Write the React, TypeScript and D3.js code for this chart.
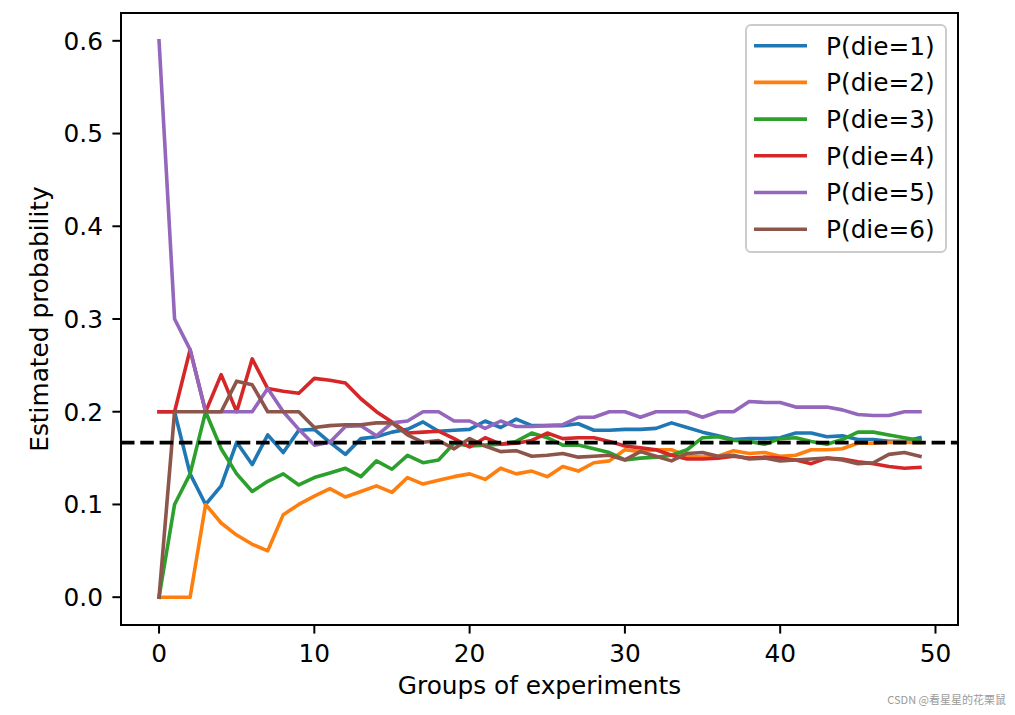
import React from "react";
import * as d3 from "d3";

const groups: number[] = d3.range(50);

const p1 = [0.2,0.2,0.133,0.1,0.12,0.167,0.143,0.175,0.156,0.18,0.181,0.167,0.154,0.171,0.173,0.178,0.181,0.189,0.179,0.18,0.181,0.19,0.183,0.192,0.185,0.185,0.185,0.187,0.18,0.18,0.181,0.181,0.182,0.188,0.183,0.178,0.174,0.17,0.171,0.171,0.172,0.177,0.177,0.173,0.174,0.17,0.17,0.168,0.168,0.172];
const p2 = [0,0,0,0.1,0.08,0.067,0.057,0.05,0.089,0.1,0.109,0.117,0.108,0.114,0.12,0.113,0.129,0.122,0.126,0.13,0.133,0.127,0.139,0.133,0.136,0.13,0.141,0.136,0.145,0.147,0.159,0.157,0.159,0.159,0.152,0.151,0.152,0.158,0.155,0.156,0.152,0.153,0.159,0.159,0.16,0.166,0.166,0.167,0.167,0.167];
const p3 = [0,0.1,0.133,0.2,0.16,0.133,0.114,0.125,0.133,0.121,0.129,0.134,0.139,0.13,0.147,0.138,0.153,0.145,0.148,0.166,0.163,0.164,0.165,0.168,0.177,0.172,0.164,0.164,0.16,0.156,0.148,0.15,0.151,0.153,0.159,0.172,0.173,0.169,0.168,0.165,0.171,0.172,0.168,0.165,0.17,0.178,0.178,0.175,0.172,0.169];
const p4 = [0.2,0.2,0.267,0.2,0.24,0.2,0.257,0.225,0.222,0.22,0.236,0.234,0.231,0.214,0.2,0.189,0.177,0.178,0.179,0.171,0.162,0.172,0.165,0.166,0.169,0.177,0.171,0.172,0.172,0.168,0.163,0.161,0.159,0.153,0.149,0.149,0.15,0.152,0.15,0.151,0.15,0.148,0.144,0.15,0.149,0.146,0.144,0.141,0.139,0.14];
const p5 = [0.6,0.3,0.267,0.2,0.2,0.2,0.2,0.225,0.2,0.181,0.164,0.167,0.184,0.185,0.174,0.188,0.19,0.2,0.2,0.19,0.19,0.182,0.19,0.184,0.184,0.185,0.186,0.194,0.194,0.2,0.2,0.194,0.2,0.2,0.2,0.194,0.2,0.2,0.211,0.21,0.21,0.205,0.205,0.205,0.202,0.197,0.196,0.196,0.2,0.2];
const p6 = [0,0.2,0.2,0.2,0.2,0.233,0.229,0.2,0.2,0.2,0.183,0.185,0.186,0.186,0.188,0.188,0.175,0.167,0.169,0.16,0.171,0.163,0.157,0.158,0.152,0.153,0.155,0.151,0.152,0.153,0.148,0.157,0.152,0.147,0.155,0.156,0.152,0.153,0.149,0.15,0.147,0.148,0.149,0.15,0.148,0.144,0.145,0.154,0.156,0.152];

const seriesLabels = ["P(die=1)", "P(die=2)", "P(die=3)", "P(die=4)", "P(die=5)", "P(die=6)"];
const seriesValues = [p1, p2, p3, p4, p5, p6];
const colors = ["#1f77b4", "#ff7f0e", "#2ca02c", "#d62728", "#9467bd", "#8c564b"];
const xTicks = [0, 10, 20, 30, 40, 50];
const yTicks = [0.0, 0.1, 0.2, 0.3, 0.4, 0.5, 0.6];
const fairValue = 1 / 6;

const W = 1015, H = 715;
const L = 121, R = 958, T = 13, B = 625;
const FONT = "DejaVu Sans";
const FS = 24.8;

export default function App() {
  const x = d3.scaleLinear().domain([-2.45, 51.45]).range([L, R]);
  const y = d3.scaleLinear().domain([-0.03, 0.63]).range([B, T]);
  const line = d3.line<number>().x((_, i) => x(groups[i])).y((d) => y(d));

  const legX = 746, legY = 25, legW = 200, legH = 227;
  const rowH = 36.7;

  return (
    <svg width={W} height={H} style={{ position: "absolute", left: 0, top: 0, background: "#fff" }} fontFamily={FONT}>
      <rect x={0} y={0} width={W} height={H} fill="#fff" />
      <defs>
        <clipPath id="plotclip">
          <rect x={L} y={T} width={R - L} height={B - T} />
        </clipPath>
      </defs>
      <g clipPath="url(#plotclip)">
        {seriesValues.map((vals, k) => (
          <path key={k} d={line(vals) || ""} fill="none" stroke={colors[k]} strokeWidth={3.6} strokeLinejoin="round" strokeLinecap="square" />
        ))}
        <line x1={L} x2={R} y1={y(fairValue)} y2={y(fairValue)} stroke="#000" strokeWidth={3.6} strokeDasharray="13.5,5.8" />
      </g>
      <rect x={L} y={T} width={R - L} height={B - T} fill="none" stroke="#000" strokeWidth={2} />
      {xTicks.map((t) => (
        <g key={t}>
          <line x1={x(t)} x2={x(t)} y1={B} y2={B + 8.6} stroke="#000" strokeWidth={2} />
          <text x={x(t)} y={662} textAnchor="middle" fontSize={FS} fill="#000">{t}</text>
        </g>
      ))}
      {yTicks.map((t) => (
        <g key={t}>
          <line x1={L - 8.6} x2={L} y1={y(t)} y2={y(t)} stroke="#000" strokeWidth={2} />
          <text x={103} y={y(t)} dy="0.36em" textAnchor="end" fontSize={FS} fill="#000">{t.toFixed(1)}</text>
        </g>
      ))}
      <text x={(L + R) / 2} y={694} textAnchor="middle" fontSize={FS} fill="#000">Groups of experiments</text>
      <text transform={`translate(48, ${(T + B) / 2}) rotate(-90)`} textAnchor="middle" fontSize={FS} fill="#000">Estimated probability</text>
      <rect x={legX} y={legY} width={legW} height={legH} rx={5} ry={5} fill="#fff" fillOpacity={0.8} stroke="#cccccc" strokeWidth={2} />
      {seriesLabels.map((lab, k) => {
        const cy = 45.7 + k * rowH;
        return (
          <g key={lab}>
            <line x1={754} x2={807} y1={cy} y2={cy} stroke={colors[k]} strokeWidth={3.6} />
            <text x={826} y={cy} dy="0.36em" fontSize={FS} fill="#000">{lab}</text>
          </g>
        );
      })}
      <text x={1006} y={704} textAnchor="end" fontSize={11} fill="#9a9a9a" fontFamily="Noto Sans CJK SC">CSDN @看星星的花栗鼠</text>
    </svg>
  );
}
